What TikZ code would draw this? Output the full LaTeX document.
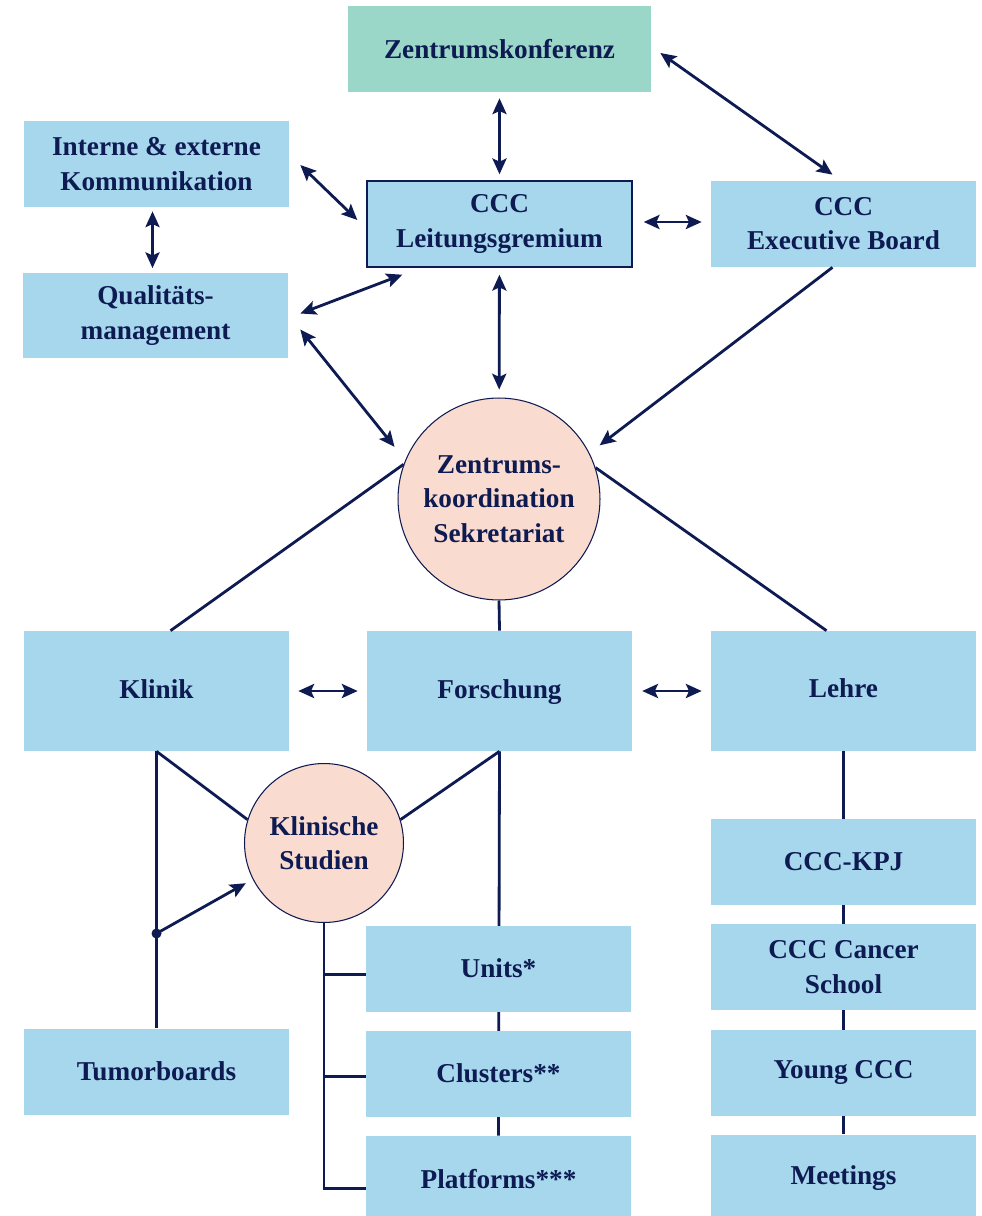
\documentclass[tikz,border=0pt]{standalone}
\usepackage{fontspec}
\setmainfont{Liberation Serif}
\usetikzlibrary{positioning,calc,arrows.meta,backgrounds}
\definecolor{navy}{RGB}{14,27,82}
\definecolor{boxblue}{RGB}{166,215,236}
\definecolor{boxgreen}{RGB}{155,215,200}
\definecolor{peach}{RGB}{250,219,207}
\newcommand{\boxfont}{\bfseries\fontsize{15.5}{19.5}\selectfont}

\begin{document}
\begin{tikzpicture}[x=0.02cm,y=-0.02cm,
  box/.style={fill=boxblue, text=navy, font=\boxfont, align=center,
    minimum width=5.3cm, minimum height=1.72cm, inner sep=0pt},
  tall/.style={box, minimum height=2.4cm, text height=1.05em, text depth=0.2em},
  ring/.style={circle, fill=peach, draw=navy, line width=0.6pt, text=navy,
    font=\boxfont, align=center, inner sep=0pt},
  link/.style={draw=navy, line width=1.6pt},
  tip/.tip={Stealth[length=9pt,width=8pt,inset=1.8pt]},
  dbl/.style={link, tip-tip},
  one/.style={link, -tip}]
\useasboundingbox (0,0) rectangle (982,1216);

\node [box, fill=boxgreen, minimum width=6.06cm] (konferenz) at (499.5,49) {Zentrumskonferenz};
\node [box] (komm) at (156.5,164) {Interne \& externe\\Kommunikation};
\node [box] (qm) at (155.5,315.5) {Qualitäts-\\management};
\node [box, draw=navy, line width=0.8pt] (leitung) at (499.5,224) {CCC\\Leitungsgremium};
\node [box] (board) at (843.5,224) {CCC\\Executive Board};
\node [ring, minimum size=4.04cm] (koord) at (499,499) {Zentrums-\\koordination\\Sekretariat};

\node [tall] (klinik) at (156.5,691) {Klinik};
\node [tall] (forschung) at (499.5,691) {Forschung};
\node [tall, text height=0.9em] (lehre) at (843.5,691) {Lehre};
\node [ring, minimum size=3.18cm] (studien) at (324,843) {Klinische\\Studien};

\node [box] (units) at (498.5,968.5) {Units*};
\node [box, below=0.37cm of units] (clusters) {Clusters**};
\node [box, below=0.37cm of clusters] (platforms) {Platforms***};
\node [box] (tumor) at (156.5,1071.5) {Tumorboards};

\node [box] (kpj) at (843.5,861.5) {CCC-KPJ};
\node [box, below=0.38cm of kpj] (school) {CCC Cancer\\School};
\node [box, below=0.38cm of school] (young) {Young CCC};
\node [box, below=0.36cm of young] (meetings) {Meetings};

\begin{scope}[on background layer]
\draw [link] (forschung.south) -- (platforms.north);
\draw [link] (lehre.south) -- (meetings.north);
\end{scope}

\draw [dbl, shorten <=3.4pt, shorten >=3.4pt] (konferenz) -- (leitung);
\draw [dbl] ($(konferenz.east)+(9,4)$) -- ($(board.north)+(-11,-6)$);
\draw [dbl] ($(leitung.east)+(11,-2)$) -- ($(board.west)+(-9,-2)$);
\draw [dbl] ($(komm.east)+(11,1)$) -- ($(leitung.west)+(-9,-4)$);
\draw [dbl] ($(komm.south)+(-4,4)$) -- ($(qm.north)+(-3,-4)$);
\draw [dbl] ($(qm.east)+(12,-2)$) -- ($(leitung.south west)+(36,7)$);
\draw [dbl] ($(qm.east)+(12,14)$) -- ($(koord.153)+(-14,-6)$);
\draw [dbl, shorten <=4pt, shorten >=4.5pt] (leitung) -- (koord);
\draw [one] ($(board.south)+(-11,0)$) -- ($(koord.28)+(11,-6)$);

\draw [link] (koord.160) -- ($(klinik.north)+(14,0)$);
\draw [link] (koord.18) -- ($(lehre.north)+(-17,0)$);
\draw [link] (koord.south) -- (forschung.north);
\draw [dbl, shorten <=5.1pt, shorten >=5.1pt] (klinik) -- (forschung);
\draw [dbl, shorten <=5.6pt, shorten >=5.1pt] (forschung) -- (lehre);

\draw [link] (klinik.south) -- (tumor.north);
\draw [link] (klinik.south) -- (studien.163);
\draw [link] (forschung.south) -- (studien.17);
\coordinate (dot) at ($(klinik.south)!0.658!(tumor.north)$);
\fill [navy] (dot) circle (5);
\draw [one, shorten >=4.5pt] (dot) -- (studien.207);

\draw [link] (studien.south) |- ($(platforms.west)+(0,10)$);
\draw [link] (studien.south |- units.west) ++(0,6) -- ($(units.west)+(0,6)$);
\draw [link] (studien.south |- clusters.west) ++(0,3) -- ($(clusters.west)+(0,3)$);
\end{tikzpicture}
\end{document}
